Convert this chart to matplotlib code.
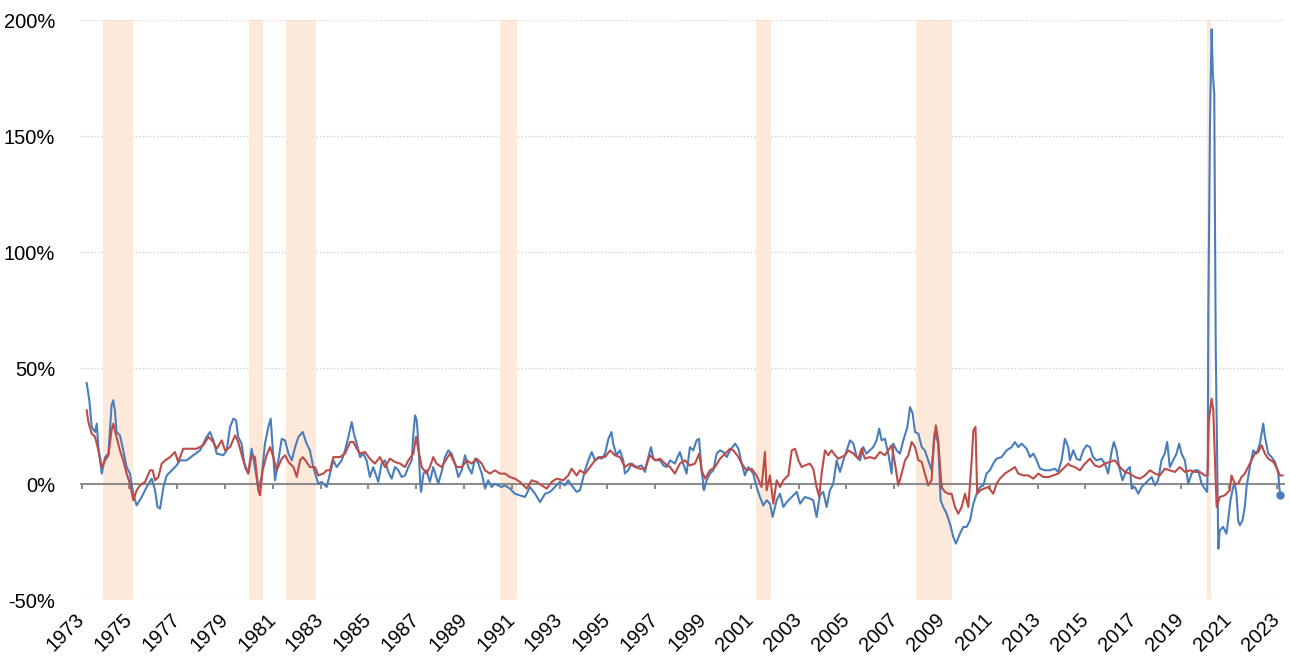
import matplotlib
matplotlib.use("Agg")
import matplotlib.pyplot as plt

# ---- data (decimal year, % change) ----
blue_year = [
    1973.21, 1973.32, 1973.42, 1973.56, 1973.63, 1973.70, 1973.84, 1973.98, 1974.12, 1974.25,
    1974.32, 1974.39, 1974.46, 1974.60, 1974.74, 1974.88, 1975.02, 1975.16, 1975.30, 1975.51,
    1975.72, 1975.93, 1976.07, 1976.17, 1976.28, 1976.42, 1976.56, 1976.77, 1976.97, 1977.11,
    1977.39, 1977.67, 1977.95, 1978.23, 1978.37, 1978.51, 1978.65, 1978.93, 1979.07, 1979.21,
    1979.35, 1979.46, 1979.55, 1979.69, 1979.83, 1979.97, 1980.11, 1980.25, 1980.39, 1980.53,
    1980.67, 1980.81, 1980.91, 1980.99, 1981.09, 1981.23, 1981.37, 1981.51, 1981.65, 1981.79,
    1981.93, 1982.07, 1982.25, 1982.41, 1982.55, 1982.69, 1982.90, 1983.04, 1983.25,
    1983.53, 1983.67, 1983.88, 1984.02, 1984.16, 1984.30, 1984.39, 1984.51, 1984.65, 1984.78,
    1984.92, 1985.06, 1985.20, 1985.41, 1985.55, 1985.69, 1985.83, 1985.97, 1986.11, 1986.25,
    1986.39, 1986.53, 1986.67, 1986.81, 1986.88, 1986.95, 1987.02, 1987.09, 1987.16, 1987.20,
    1987.30, 1987.43, 1987.57, 1987.71, 1987.92, 1988.06, 1988.20, 1988.34, 1988.48, 1988.62,
    1988.76, 1988.90, 1989.04, 1989.18, 1989.32, 1989.46, 1989.60, 1989.74, 1989.88, 1990.01,
    1990.15, 1990.29, 1990.43, 1990.57, 1990.71, 1990.92, 1991.13, 1991.34, 1991.55, 1991.76,
    1991.97, 1992.18, 1992.39, 1992.60, 1992.80, 1993.01, 1993.22, 1993.36, 1993.50, 1993.71,
    1993.85, 1993.92, 1994.06, 1994.20, 1994.34, 1994.48, 1994.62, 1994.76, 1994.90, 1995.04,
    1995.17, 1995.24, 1995.38, 1995.52, 1995.66, 1995.73, 1995.87, 1996.01, 1996.22, 1996.43,
    1996.57, 1996.71, 1996.82, 1996.92, 1997.06, 1997.20, 1997.34, 1997.48, 1997.62, 1997.82,
    1998.03, 1998.17, 1998.31, 1998.45, 1998.59, 1998.73, 1998.83, 1998.94, 1999.04, 1999.15,
    1999.29, 1999.43, 1999.57, 1999.71, 1999.85, 1999.99, 2000.13, 2000.34, 2000.48, 2000.62,
    2000.75, 2000.89, 2001.10, 2001.24, 2001.38, 2001.52, 2001.66, 2001.80, 2001.91, 2002.08,
    2002.22, 2002.36, 2002.50, 2002.71, 2002.92, 2003.06, 2003.26, 2003.47, 2003.61, 2003.75,
    2003.89, 2004.03, 2004.17, 2004.31, 2004.45, 2004.59, 2004.73,
    2004.87, 2005.01, 2005.15, 2005.29, 2005.43, 2005.57, 2005.70, 2005.84, 2005.98, 2006.12,
    2006.26, 2006.37, 2006.47, 2006.61, 2006.75, 2006.89, 2006.96, 2007.10, 2007.24, 2007.38,
    2007.55, 2007.66, 2007.77, 2007.87, 2008.01, 2008.15, 2008.28, 2008.42, 2008.56, 2008.70,
    2008.84, 2008.94, 2009.05, 2009.19, 2009.33, 2009.47, 2009.58, 2009.75, 2009.89, 2010.03,
    2010.17, 2010.31, 2010.45, 2010.59, 2010.73, 2010.86, 2011.00, 2011.14, 2011.28, 2011.49,
    2011.70, 2011.91, 2012.05, 2012.19, 2012.33, 2012.54, 2012.68, 2012.82, 2012.96, 2013.10,
    2013.31, 2013.51, 2013.72, 2013.86, 2014.00, 2014.14, 2014.28,
    2014.35, 2014.49, 2014.63, 2014.77, 2014.91, 2015.05, 2015.19, 2015.32, 2015.46, 2015.67,
    2015.81, 2015.95, 2016.09, 2016.19, 2016.30, 2016.41, 2016.55, 2016.72, 2016.86, 2016.93,
    2017.07, 2017.21, 2017.35, 2017.49, 2017.63, 2017.77, 2017.91, 2018.04, 2018.18, 2018.32,
    2018.42, 2018.53, 2018.67, 2018.81, 2018.92, 2019.02, 2019.16, 2019.30, 2019.44, 2019.58,
    2019.72, 2019.86, 2019.99, 2020.09,
    2020.12, 2020.14, 2020.21, 2020.28, 2020.33, 2020.39, 2020.45, 2020.56,
    2020.62, 2020.76, 2020.90, 2020.97, 2021.07, 2021.18, 2021.25, 2021.32, 2021.39, 2021.46,
    2021.57, 2021.67, 2021.74, 2021.88, 2022.02, 2022.16, 2022.30, 2022.44, 2022.51, 2022.65,
    2022.79, 2022.93, 2023.07, 2023.11, 2023.16,
]
blue_pct = [
    43.5, 36.1, 24.6, 22.4, 26.0, 15.9, 4.5, 11.6, 13.1, 33.9,
    36.1, 31.8, 22.4, 21.0, 14.5, 7.3, 4.5, -4.2, -9.2, -5.6,
    -1.3, 2.3, -2.7, -9.9, -10.6, -1.3, 3.7, 5.9, 8.0, 10.2,
    10.2, 12.4, 14.5, 20.3, 22.4, 18.8, 13.1, 12.4, 14.5, 24.6,
    28.2, 27.4, 20.3, 17.4, 7.3, 4.5, 15.2, 7.3, -2.0, 3.0,
    17.4, 24.6, 28.2, 15.9, 1.6, 10.2, 19.5, 18.8, 13.1, 10.2,
    15.9, 20.3, 22.4, 17.4, 14.5, 7.3, 0.1, 0.9, -1.3,
    10.2, 7.3, 10.2, 14.5, 20.3, 26.7, 21.7, 17.4, 11.6, 13.1,
    10.2, 3.0, 7.3, 0.9, 8.8, 10.2, 5.2, 2.3, 7.3, 5.9,
    3.0, 3.7, 7.3, 10.2, 21.7, 29.6, 27.4, 17.4, 1.6, -3.4,
    4.5, 5.9, 0.9, 7.3, 0.1, 5.2, 11.6, 14.5, 13.1, 8.8,
    3.0, 5.9, 12.4, 7.3, 4.5, 10.9, 8.8, 4.5, -2.0, 1.6,
    -1.3, 0.1, -0.6, -1.3, -0.6, -2.0, -4.2, -4.9, -5.6, -1.3,
    -4.2, -7.8, -4.2, -3.4, -1.3, 0.9, -0.6, 1.6, -0.6, -3.4,
    -2.7, 0.1, 5.9, 10.2, 13.8, 10.2, 11.6, 10.9, 13.1, 19.5,
    22.4, 17.4, 12.4, 14.5, 10.2, 4.5, 5.9, 8.8, 7.3, 8.0,
    5.2, 11.6, 15.9, 10.9, 10.2, 10.2, 8.0, 7.3, 10.2, 8.8,
    13.8, 8.8, 4.5, 15.9, 14.5, 18.8, 19.5, 5.9, -2.7, 1.6,
    4.5, 5.9, 13.1, 14.5, 13.8, 11.6, 14.5, 17.4, 15.2, 8.8,
    3.7, 7.3, 4.5, -1.3, -5.6, -9.2, -7.0, -8.5, -14.2, -7.0,
    -4.2, -9.9, -7.8, -5.6, -3.4, -8.5, -5.6, -6.3, -7.0, -14.2,
    -4.9, -3.4, -9.9, -2.7, 0.1, 10.2, 5.2,
    10.2, 14.5, 18.8, 17.4, 11.6, 10.2, 15.9, 13.1, 14.5, 15.9,
    18.8, 23.9, 18.8, 19.5, 13.1, 4.5, 17.4, 14.5, 13.1, 18.8,
    24.6, 33.2, 30.4, 22.4, 21.7, 15.9, 14.5, 10.2, 5.9, 22.4,
    17.4, -7.0, -9.9, -12.8, -17.1, -22.8, -25.7, -21.4, -18.5, -18.5,
    -15.7, -8.5, -4.2, -1.3, -0.6, 4.5, 5.9, 8.8, 10.9, 11.6,
    14.5, 15.9, 18.1, 15.9, 17.4, 15.2, 11.6, 13.1, 10.2, 6.6,
    5.9, 5.9, 6.6, 5.2, 10.2, 19.5, 15.9,
    10.2, 14.5, 10.9, 10.2, 14.5, 16.7, 15.9, 11.6, 10.2, 10.9,
    8.8, 4.5, 13.8, 18.1, 14.5, 7.3, 1.6, 5.9, 7.3, -2.0,
    -1.3, -4.2, -1.3, 0.1, 1.6, 3.0, -0.6, 1.6, 10.2, 13.1,
    18.1, 7.3, 10.2, 13.1, 17.4, 13.1, 10.2, 0.1, 4.5, 5.9,
    5.9, 0.1, -2.0, -3.4,
    10.0, 74.0, 154.0, 196.0, 177.0, 168.0, 60.0, -27.9,
    -20.0, -18.5, -21.4, -15.7, -7.0, -1.3, 0.1, -4.2, -15.7, -17.8,
    -15.7, -9.9, -1.3, 7.3, 14.5, 13.1, 17.4, 26.0, 20.3, 13.1,
    11.6, 9.5, 4.5, -1.3, -4.9,
]

red_year = [
    1973.21, 1973.28, 1973.42, 1973.56, 1973.70, 1973.84, 1973.98, 1974.12, 1974.25, 1974.32,
    1974.46, 1974.60, 1974.74, 1974.88, 1975.02, 1975.16, 1975.30, 1975.44, 1975.65, 1975.86,
    1975.97, 1976.07, 1976.21, 1976.35, 1976.49, 1976.70, 1976.90, 1977.04, 1977.25, 1977.53,
    1977.81, 1978.09, 1978.30, 1978.51, 1978.65, 1978.86, 1979.00, 1979.21, 1979.42, 1979.55,
    1979.76, 1979.97, 1980.11, 1980.25, 1980.39, 1980.46, 1980.57, 1980.74, 1980.88, 1981.02,
    1981.16, 1981.37, 1981.51, 1981.65, 1981.86, 1982.00, 1982.14, 1982.25, 1982.41, 1982.55,
    1982.76, 1982.90, 1983.11, 1983.25, 1983.39,
    1983.53, 1983.81, 1984.02, 1984.23, 1984.37, 1984.51, 1984.65, 1984.85, 1985.06, 1985.27,
    1985.48, 1985.69, 1985.90, 1986.11, 1986.32, 1986.53, 1986.67, 1986.88, 1986.99, 1987.09,
    1987.23, 1987.43, 1987.57, 1987.71, 1987.85, 1988.06, 1988.27, 1988.41, 1988.55, 1988.69,
    1988.90, 1989.11, 1989.32, 1989.53, 1989.74, 1989.88, 1990.08, 1990.29, 1990.50, 1990.71,
    1990.92, 1991.13, 1991.34, 1991.62, 1991.83, 1992.04, 1992.25, 1992.46, 1992.67, 1992.87,
    1993.15, 1993.36, 1993.50, 1993.71,
    1993.85, 1994.06, 1994.27, 1994.48, 1994.69, 1994.90, 1995.11, 1995.31, 1995.52, 1995.73,
    1995.94, 1996.15, 1996.36, 1996.57, 1996.78, 1996.99, 1997.20, 1997.41, 1997.62, 1997.82,
    1998.03, 1998.24, 1998.45, 1998.66, 1998.84, 1998.94, 1999.08, 1999.29, 1999.50, 1999.71,
    1999.92, 2000.13, 2000.27, 2000.48, 2000.62, 2000.82, 2001.03, 2001.24, 2001.45, 2001.59,
    2001.66, 2001.80, 2001.94, 2002.08, 2002.22, 2002.36, 2002.57, 2002.71, 2002.85, 2002.99,
    2003.13, 2003.26, 2003.47, 2003.61, 2003.75, 2003.86, 2003.96, 2004.10, 2004.24, 2004.38,
    2004.52, 2004.66,
    2004.94, 2005.08, 2005.29, 2005.50, 2005.63, 2005.77, 2005.98, 2006.19, 2006.40, 2006.61,
    2006.75, 2006.89, 2007.03, 2007.17, 2007.31, 2007.45, 2007.59, 2007.73, 2007.87, 2008.01,
    2008.15, 2008.28, 2008.42, 2008.56, 2008.66, 2008.74, 2008.84, 2008.98, 2009.12, 2009.26,
    2009.40, 2009.54, 2009.68, 2009.82, 2009.96, 2010.10, 2010.24, 2010.31, 2010.40, 2010.47,
    2010.61, 2010.75, 2010.93, 2011.14, 2011.28, 2011.42, 2011.63, 2011.84, 2012.05, 2012.19,
    2012.40, 2012.61, 2012.82, 2013.03, 2013.24, 2013.45, 2013.65, 2013.86, 2014.07, 2014.28,
    2014.35, 2014.56, 2014.77, 2014.98, 2015.19, 2015.39, 2015.60, 2015.81, 2016.02, 2016.23,
    2016.44, 2016.65, 2016.86, 2017.07, 2017.28, 2017.49, 2017.70, 2017.91, 2018.11, 2018.32,
    2018.53, 2018.74, 2018.95, 2019.16, 2019.37, 2019.58, 2019.79, 2019.99, 2020.11, 2020.16,
    2020.28, 2020.35, 2020.42, 2020.49, 2020.62, 2020.83, 2021.04, 2021.11, 2021.25, 2021.39,
    2021.53, 2021.67, 2021.88, 2022.09, 2022.23, 2022.37, 2022.51, 2022.65, 2022.86, 2022.99,
    2023.13, 2023.25,
]
red_pct = [
    31.8, 26.7, 21.7, 20.3, 14.5, 7.3, 10.2, 12.4, 23.1, 26.0,
    20.3, 14.5, 10.2, 4.5, 0.1, -7.0, -2.7, -0.6, 0.9, 5.9,
    5.9, 1.6, 3.0, 8.8, 10.2, 11.6, 13.8, 9.5, 15.2, 15.2,
    15.2, 16.7, 20.3, 18.1, 15.2, 18.8, 14.5, 15.9, 21.0, 18.1,
    10.2, 4.5, 12.4, 11.6, -2.7, -4.9, 5.9, 12.4, 15.9, 11.6,
    5.9, 10.9, 12.4, 9.5, 7.3, 3.0, 10.2, 11.6, 9.5, 7.3,
    7.3, 3.7, 4.5, 5.9, 5.9,
    11.6, 11.6, 13.1, 18.1, 18.1, 15.2, 13.1, 13.8, 10.9, 8.8,
    11.6, 7.3, 10.9, 9.5, 8.8, 7.3, 10.2, 13.1, 20.3, 14.5,
    7.3, 4.5, 7.3, 11.6, 8.8, 7.3, 10.9, 13.1, 10.2, 7.3,
    7.3, 10.2, 8.8, 10.9, 8.8, 5.9, 4.5, 5.9, 4.5, 4.5,
    3.0, 2.3, 0.9, -2.0, 1.6, 0.9, -0.6, -2.0, 0.9, 2.3,
    1.6, 3.7, 6.6, 3.7,
    5.9, 4.5, 7.3, 10.2, 11.6, 11.6, 14.5, 12.4, 11.6, 7.3,
    8.8, 7.3, 6.6, 6.6, 12.4, 10.2, 10.9, 8.8, 7.3, 4.5,
    8.8, 10.2, 8.0, 8.8, 13.1, 5.9, 2.3, 5.9, 7.3, 10.9,
    13.1, 15.2, 14.5, 11.6, 8.8, 5.9, 6.6, 3.7, -1.3, 13.8,
    -2.7, 3.7, -8.5, 1.6, -1.3, 1.6, 3.7, 14.5, 15.2, 10.2,
    7.3, 8.0, 8.8, 6.6, -1.3, -5.6, 4.5, 14.5, 12.4, 14.5,
    12.4, 10.9,
    12.4, 14.5, 13.1, 10.9, 15.2, 10.9, 11.6, 10.9, 13.8, 12.4,
    14.5, 16.7, 8.8, -0.6, 4.5, 10.2, 12.4, 18.1, 15.9, 10.2,
    9.5, 4.5, -0.6, 1.6, 18.8, 25.3, 18.8, -1.3, -3.4, -4.2,
    -4.2, -9.9, -12.8, -9.9, -4.2, -9.9, 10.2, 23.1, 24.6, -4.2,
    -2.7, -2.0, -1.3, -4.2, 0.1, 2.3, 4.5, 5.9, 7.3, 4.5,
    3.7, 3.7, 2.3, 4.5, 3.0, 3.0, 3.7, 4.5, 6.6, 8.8,
    8.0, 7.3, 5.9, 8.8, 10.9, 8.0, 7.3, 8.8, 9.5, 10.2,
    7.3, 5.2, 4.5, 3.0, 2.3, 3.7, 5.9, 4.5, 3.7, 6.6,
    5.9, 5.2, 7.3, 5.2, 5.9, 5.2, 5.2, 3.7, 3.7, 27.4,
    36.8, 31.8, 10.2, -9.9, -5.6, -4.9, -2.7, 3.7, 0.1, 0.1,
    3.0, 4.5, 8.8, 13.1, 13.8, 16.7, 13.1, 10.9, 9.5, 7.3,
    3.7, 3.7,
]

recession_start = [1973.90, 1980.00, 1981.55, 1990.50, 2001.21, 2007.90, 2020.07]
recession_end = [1975.16, 1980.59, 1982.80, 1991.21, 2001.84, 2009.42, 2020.24]

year_ticks = list(range(1973, 2024, 2))
pct_ticks = [-50, 0, 50, 100, 150, 200]

# ---- drawing ----
plt.rcParams['font.family'] = ['Liberation Sans', 'DejaVu Sans']
fig = plt.figure(figsize=(12.9, 6.56), dpi=100)
ax = fig.add_axes([80 / 1290, 56 / 656, 1205 / 1290, 580 / 656])

for s, e in zip(recession_start, recession_end):
    ax.axvspan(s, e, color='#fde9da', lw=0, zorder=1)

for g in [-50, 50, 100, 150]:
    ax.axhline(g, color='#cfcfcf', lw=1.0, ls=(0, (1, 1.5)), zorder=0)
ax.axhline(200, color='#f7dccb', lw=1.5, ls=(0, (1, 1)), zorder=2)

ax.axhline(0, color='#8c8c8c', lw=1.5, zorder=3)
ax.vlines(year_ticks, -2.2, 0, color='#8c8c8c', lw=1.5, zorder=3)

ax.plot(blue_year, blue_pct, color='#4a7ebb', lw=1.5, zorder=4)
ax.plot(red_year, red_pct, color='#be4b48', lw=1.5, zorder=5)
ax.plot(blue_year[-1:], blue_pct[-1:], 'o', color='#4a7ebb', ms=5, zorder=4)

ax.set_xlim(1972.93, 2023.35)
ax.set_ylim(-50, 200)
ax.set_yticks(pct_ticks)
ax.set_yticklabels([f'{v}%' for v in pct_ticks])
ax.set_xticks(year_ticks)
ax.set_xticklabels([str(y) for y in year_ticks], rotation=45, ha='right',
                   va='center', rotation_mode='anchor')
ax.tick_params(length=0, labelsize=14.5, colors='#000000')
ax.tick_params(axis='y', pad=18)
ax.tick_params(axis='x', pad=12)
for sp in ax.spines.values():
    sp.set_visible(False)

fig.savefig('out.png', dpi=100)
